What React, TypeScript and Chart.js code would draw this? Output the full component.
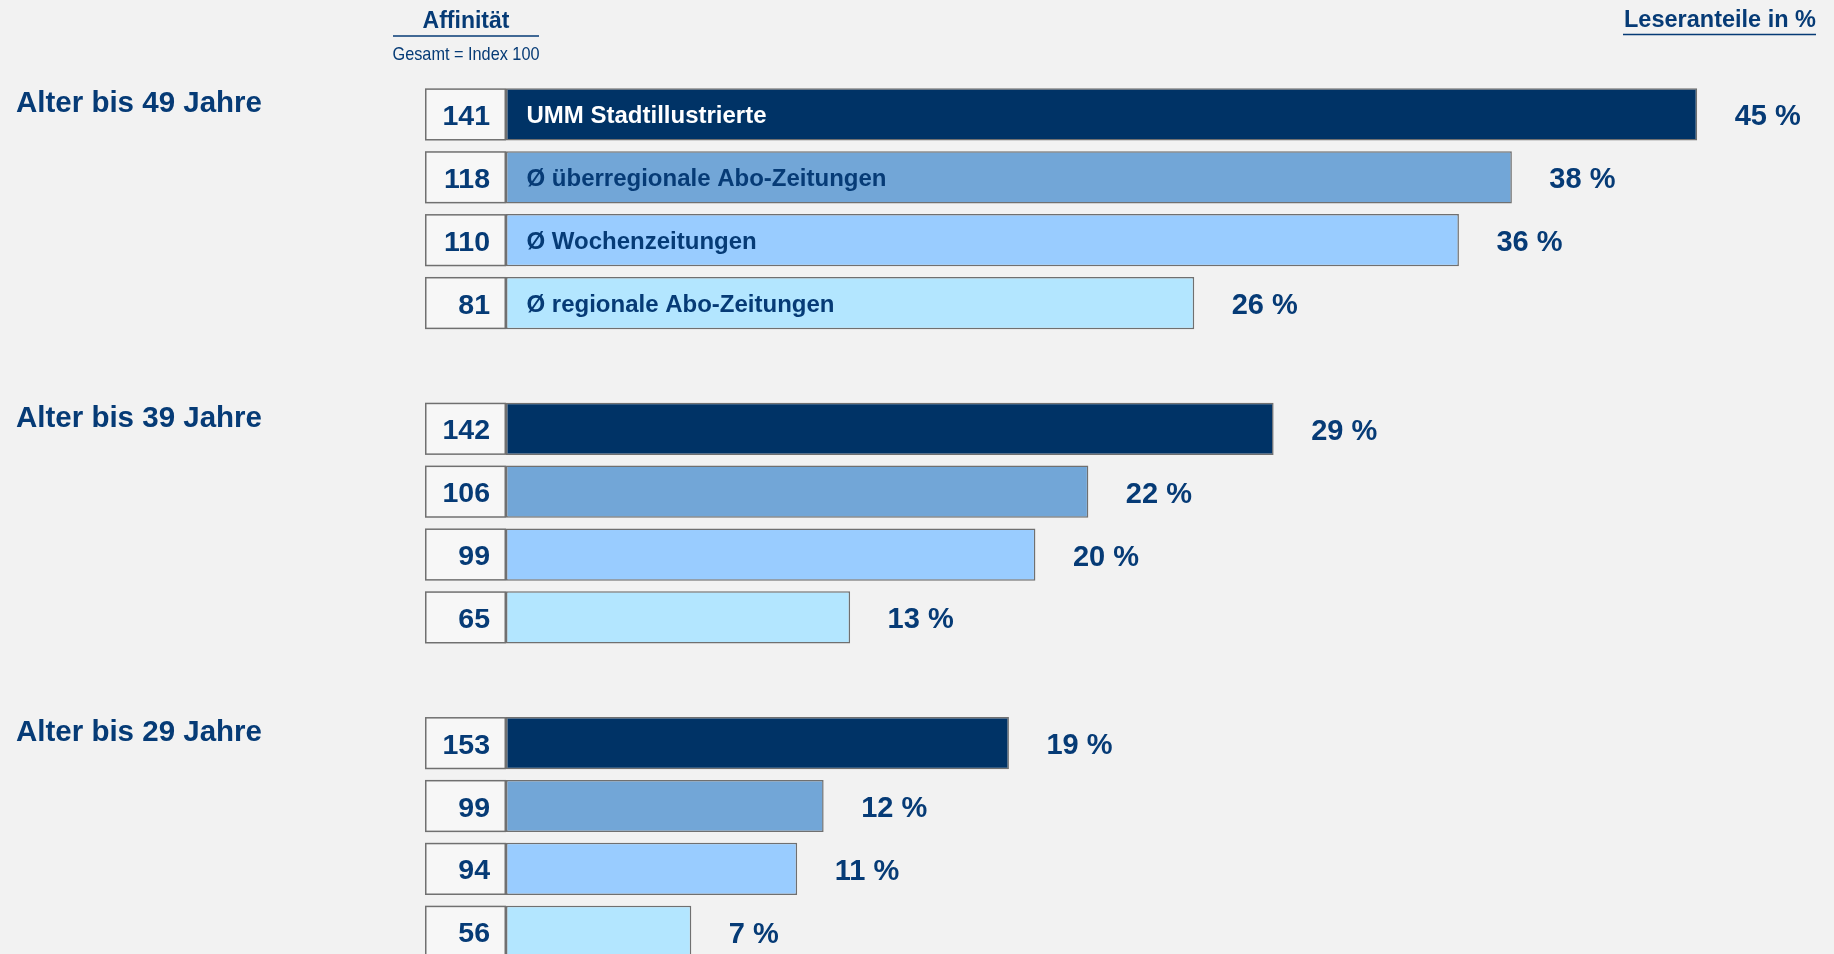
import React, { useEffect, useRef } from "react";
import { Chart, registerables } from "chart.js";

Chart.register(...registerables);

const GROUPS = ["Alter bis 49 Jahre", "Alter bis 39 Jahre", "Alter bis 29 Jahre"];
const MEDIA = [
  "UMM Stadtillustrierte",
  "Ø überregionale Abo-Zeitungen",
  "Ø Wochenzeitungen",
  "Ø regionale Abo-Zeitungen",
];
const SHARES_49 = [45, 38, 36, 26];
const SHARES_39 = [29, 22, 20, 13];
const SHARES_29 = [19, 12, 11, 7];
const AFFINITY_49 = [141, 118, 110, 81];
const AFFINITY_39 = [142, 106, 99, 65];
const AFFINITY_29 = [153, 99, 94, 56];
const MEDIA_COLORS = ["#003366", "#72A6D7", "#99CCFF", "#B3E6FF"];
const LABEL_COLORS = ["#FFFFFF", "#063B76", "#063B76", "#063B76"];
const HEADER_LEFT = "Affinität";
const HEADER_LEFT_SUB = "Gesamt = Index 100";
const HEADER_RIGHT = "Leseranteile in %";

const SHARES = [SHARES_49, SHARES_39, SHARES_29];
const AFFINITY = [AFFINITY_49, AFFINITY_39, AFFINITY_29];

type RowInfo = { gi: number; mi: number } | null;
const rowLabels: string[] = [];
const rowValues: (number | null)[] = [];
const rowInfo: RowInfo[] = [];
const rowColors: string[] = [];
GROUPS.forEach((g, gi) => {
  MEDIA.forEach((m, mi) => {
    rowLabels.push(`${g} – ${m}`);
    rowValues.push(SHARES[gi][mi]);
    rowInfo.push({ gi, mi });
    rowColors.push(MEDIA_COLORS[mi]);
  });
  if (gi < GROUPS.length - 1) {
    rowLabels.push(" ".repeat(gi + 1));
    rowValues.push(null);
    rowInfo.push(null);
    rowColors.push("rgba(0,0,0,0)");
  }
});

const NAVY = "#063B76";
const FONT = '"Liberation Sans", Arial, Helvetica, sans-serif';

const overlayPlugin = {
  id: "overlay",
  afterDatasetsDraw(chart: any) {
    const ctx: CanvasRenderingContext2D = chart.ctx;
    const area = chart.chartArea;
    const meta = chart.getDatasetMeta(0);
    ctx.save();
    meta.data.forEach((el: any, idx: number) => {
      const info = rowInfo[idx];
      if (!info) return;
      const { x, y, base, height } = el.getProps(["x", "y", "base", "height"], true);
      const top = y - height / 2;
      // index box
      const boxLeft = area.left - 81;
      ctx.fillStyle = "#F7F7F7";
      ctx.fillRect(boxLeft, top, 81, height);
      ctx.strokeStyle = "#707070";
      ctx.lineWidth = 1.5;
      ctx.strokeRect(boxLeft + 0.75, top + 0.75, 81 - 1.5, height - 1.5);
      // affinity number
      ctx.fillStyle = NAVY;
      ctx.font = `bold 28.5px ${FONT}`;
      ctx.textAlign = "right";
      ctx.textBaseline = "alphabetic";
      ctx.fillText(String(AFFINITY[info.gi][info.mi]), area.left - 16, y + 10.5);
      // value label
      ctx.font = `bold 29px ${FONT}`;
      ctx.textAlign = "left";
      ctx.fillText(`${SHARES[info.gi][info.mi]} %`, x + 37.5, y + 11);
      // inside labels (first group only)
      if (info.gi === 0) {
        ctx.font = `bold 24px ${FONT}`;
        ctx.fillStyle = LABEL_COLORS[info.mi];
        ctx.fillText(MEDIA[info.mi], base + 20.5, y + 9);
      }
      // group label
      if (info.mi === 0) {
        ctx.font = `bold 29.5px ${FONT}`;
        ctx.fillStyle = NAVY;
        ctx.fillText(GROUPS[info.gi], 16, y - 2);
      }
    });

    // headers
    ctx.fillStyle = NAVY;
    ctx.strokeStyle = NAVY;
    ctx.font = `bold 23px ${FONT}`;
    ctx.textAlign = "center";
    ctx.fillText(HEADER_LEFT, 466, 28.3);
    ctx.lineWidth = 1.5;
    ctx.beginPath();
    ctx.moveTo(393, 36);
    ctx.lineTo(539, 36);
    ctx.stroke();
    ctx.save();
    ctx.translate(466, 60);
    ctx.scale(0.88, 1);
    ctx.font = `18.5px ${FONT}`;
    ctx.fillText(HEADER_LEFT_SUB, 0, 0);
    ctx.restore();

    ctx.font = `bold 23.5px ${FONT}`;
    ctx.textAlign = "right";
    ctx.fillText(HEADER_RIGHT, 1816, 26.7);
    ctx.beginPath();
    ctx.moveTo(1623, 34.5);
    ctx.lineTo(1816, 34.5);
    ctx.stroke();
    ctx.restore();
  },
};

export default function App() {
  const canvasRef = useRef<HTMLCanvasElement | null>(null);

  useEffect(() => {
    if (!canvasRef.current) return;
    const chart = new Chart(canvasRef.current, {
      type: "bar",
      data: {
        labels: rowLabels,
        datasets: [
          {
            data: rowValues as any,
            backgroundColor: rowColors,
            borderColor: "#707070",
            borderWidth: 1.5,
            borderSkipped: false,
            categoryPercentage: 1,
            barPercentage: 0.83,
          },
        ],
      },
      options: {
        indexAxis: "y",
        responsive: false,
        animation: false,
        devicePixelRatio: 1,
        layout: { padding: { left: 506, right: 4.5, top: 83, bottom: 36.8 } },
        plugins: { legend: { display: false }, tooltip: { enabled: false } },
        scales: {
          x: { display: false, min: 0, max: 50 },
          y: { display: false },
        },
      },
      plugins: [overlayPlugin],
    });
    return () => chart.destroy();
  }, []);

  return (
    <div
      style={{
        position: "fixed",
        left: 0,
        top: 0,
        width: 1834,
        height: 1000,
        background: "#F2F2F2",
        overflow: "hidden",
      }}
    >
      <canvas ref={canvasRef} width={1834} height={1000} style={{ display: "block" }} />
    </div>
  );
}
